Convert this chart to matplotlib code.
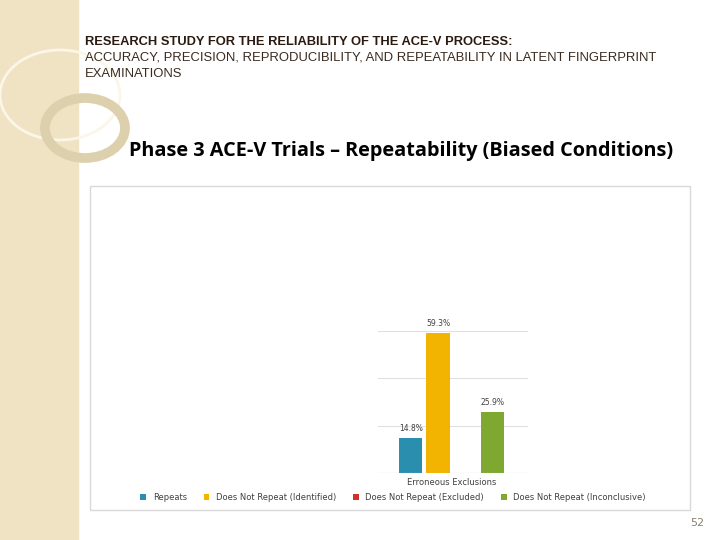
import matplotlib.pyplot as plt
from matplotlib.patches import Rectangle, Circle

series = ['Repeats', 'Does Not Repeat (Identified)', 'Does Not Repeat (Excluded)', 'Does Not Repeat (Inconclusive)']
values = [14.8, 59.3, 0.0, 25.9]
labels = ['14.8%', '59.3%', '', '25.9%']
colors = ['#2a8fae', '#f2b400', '#d0312d', '#7fa830']
category = 'Erroneous Exclusions'

fig = plt.figure(figsize=(7.2, 5.4), dpi=100)

# decorative left strip
fig.patches.append(Rectangle((0, 0), 78/720, 1, transform=fig.transFigure, color='#efe3c4', zorder=0))
fig.patches.append(Circle((60/720, 1-95/540), 60/720, transform=fig.transFigure, fill=False,
                          ec='#fbf6e8', lw=2, zorder=1))
fig.patches.append(Circle((85/720, 1-128/540), 40/720, transform=fig.transFigure, fill=False,
                          ec='#ddd0ad', lw=7, zorder=1))

hdr = dict(family='Liberation Sans', fontsize=9.4, va='center')
fig.text(85/720, 1-42/540, 'RESEARCH STUDY FOR THE RELIABILITY OF THE ACE-V PROCESS:',
         color='#2b1a10', fontweight='bold', **{**hdr, 'fontsize': 9.3})
fig.text(85/720, 1-58/540, 'ACCURACY, PRECISION, REPRODUCIBILITY, AND REPEATABILITY IN LATENT FINGERPRINT',
         color='#3a2a20', **hdr)
fig.text(85/720, 1-74/540, 'EXAMINATIONS', color='#3a2a20', **hdr)
fig.text(401/720, 1-151/540, 'Phase 3 ACE-V Trials \u2013 Repeatability (Biased Conditions)',
         fontsize=14.3, fontweight='bold', ha='center', va='center', family='Open Sans')
fig.text(697/720, 1-523/540, '52', fontsize=8, color='#8a8070', ha='center', va='center')

# chart frame
fig.patches.append(Rectangle((90/720, 1-510/540), 600/720, 324/540, transform=fig.transFigure,
                             fill=False, ec='#d9d9d9', lw=1))

ax = fig.add_axes([378/720, 1-473/540, 150/720, 142/540])
w = 0.2
offs = [-0.3, -0.1, 0.1, 0.3]
for s, v, l, c, o in zip(series, values, labels, colors, offs):
    ax.bar(o, v, width=w*0.85, color=c, label=s, zorder=2)
    if l:
        ax.text(o, v + 2, l, ha='center', va='bottom', fontsize=5.5, color='#404040')
ax.set_xlim(-0.54, 0.56)
ax.set_ylim(0, 60)
ax.set_yticks([0, 20, 40, 60])
ax.yaxis.grid(True, color='#e0e0e0', lw=0.8, zorder=0)
ax.set_yticklabels([])
ax.tick_params(length=0)
ax.set_xticks([0])
ax.set_xticklabels([category], fontsize=6, color='#404040')
for sp in ax.spines.values():
    sp.set_visible(False)
ax.axhline(0, color='#d0d0d0', lw=0.8)

fig.legend(loc='center', bbox_to_anchor=(393/720, 1-497/540), ncol=4, frameon=False, fontsize=6,
           handlelength=0.7, handleheight=0.7, columnspacing=2.0, labelcolor='#404040')

fig.savefig('out.png')
